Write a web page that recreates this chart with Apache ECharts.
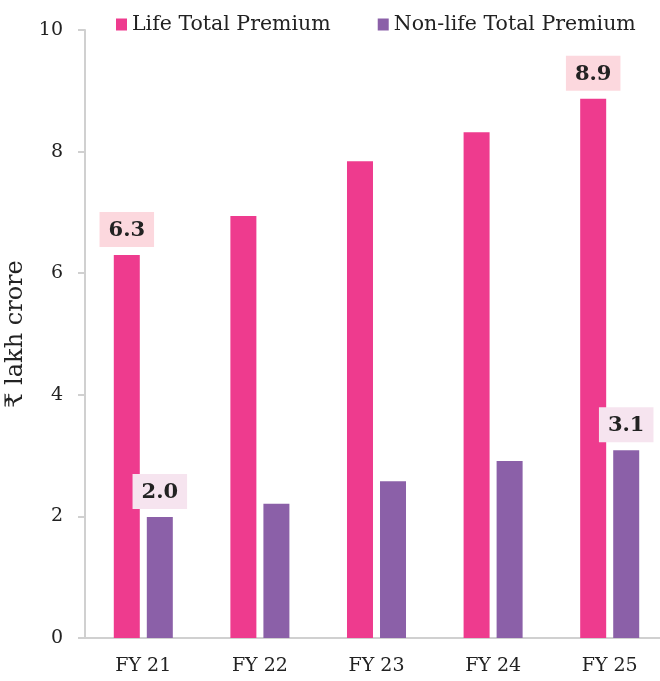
<!DOCTYPE html>
<html>
<head>
<meta charset="utf-8">
<script src="https://cdn.jsdelivr.net/npm/echarts@6/dist/echarts.min.js"></script>
<style>html,body{margin:0;padding:0;background:#fff;overflow:hidden;}#c{width:660px;height:681px;}</style>
</head>
<body>
<div id="c"></div>
<script>
const categories = ['FY 21', 'FY 22', 'FY 23', 'FY 24', 'FY 25'];
const lifeValues = [6.30, 6.94, 7.84, 8.32, 8.87];
const nonLifeValues = [1.99, 2.21, 2.58, 2.91, 3.09];
const lifeLabels = ['6.3', null, null, null, '8.9'];
const nonLifeLabels = ['2.0', null, null, null, '3.1'];
const yTicks = [0, 2, 4, 6, 8, 10];

const FONT = 'DejaVu Serif';
const LIFE = '#ee3b8e';
const NONLIFE = '#8b60a8';
const AXIS = '#d0d0d0';

function makeData(values, labels, bg) {
  return values.map((v, i) => ({
    value: v,
    label: labels[i] ? {
      show: true,
      position: 'top',
      distance: 8,
      formatter: labels[i],
      fontFamily: FONT,
      fontWeight: 'bold',
      fontSize: 21,
      color: '#222',
      backgroundColor: bg,
      padding: [8, 9, 6, 9]
    } : { show: false }
  }));
}

const chart = echarts.init(document.getElementById('c'), null, { renderer: 'canvas' });
chart.setOption({
  animation: false,
  backgroundColor: '#fff',
  textStyle: { fontFamily: FONT },
  legend: {
    top: 9,
    left: 111,
    icon: 'rect',
    itemWidth: 11,
    itemHeight: 12,
    itemGap: 47,
    textStyle: { fontFamily: FONT, fontSize: 20.5, color: '#222' },
    data: ['Life Total Premium', 'Non-life Total Premium']
  },
  grid: { left: 85, right: -8, top: 30, bottom: 43, containLabel: false, outerBoundsMode: 'none' },
  xAxis: {
    type: 'category',
    data: categories,
    axisLine: { show: true, lineStyle: { color: AXIS, width: 2 } },
    axisTick: { show: false },
    axisLabel: { fontFamily: FONT, fontSize: 19, color: '#222', margin: 19 }
  },
  yAxis: {
    type: 'value',
    min: yTicks[0],
    max: yTicks[yTicks.length - 1],
    interval: 2,
    name: '₹ lakh crore',
    nameLocation: 'middle',
    nameGap: 46,
    nameRotate: 90,
    nameTextStyle: { fontFamily: FONT, fontSize: 24, color: '#222' },
    axisLine: { show: true, lineStyle: { color: AXIS, width: 2 } },
    axisTick: { show: true, length: 7, lineStyle: { color: AXIS, width: 2 } },
    splitLine: { show: false },
    axisLabel: { fontFamily: FONT, fontSize: 19, color: '#222', margin: 22 }
  },
  series: [
    {
      name: 'Life Total Premium',
      type: 'bar',
      barWidth: 26,
      barGap: '27%',
      itemStyle: { color: LIFE },
      data: makeData(lifeValues, lifeLabels, '#fcd8de')
    },
    {
      name: 'Non-life Total Premium',
      type: 'bar',
      barWidth: 26,
      itemStyle: { color: NONLIFE },
      data: makeData(nonLifeValues, nonLifeLabels, '#f6e4ef')
    }
  ]
});
</script>
</body>
</html>
